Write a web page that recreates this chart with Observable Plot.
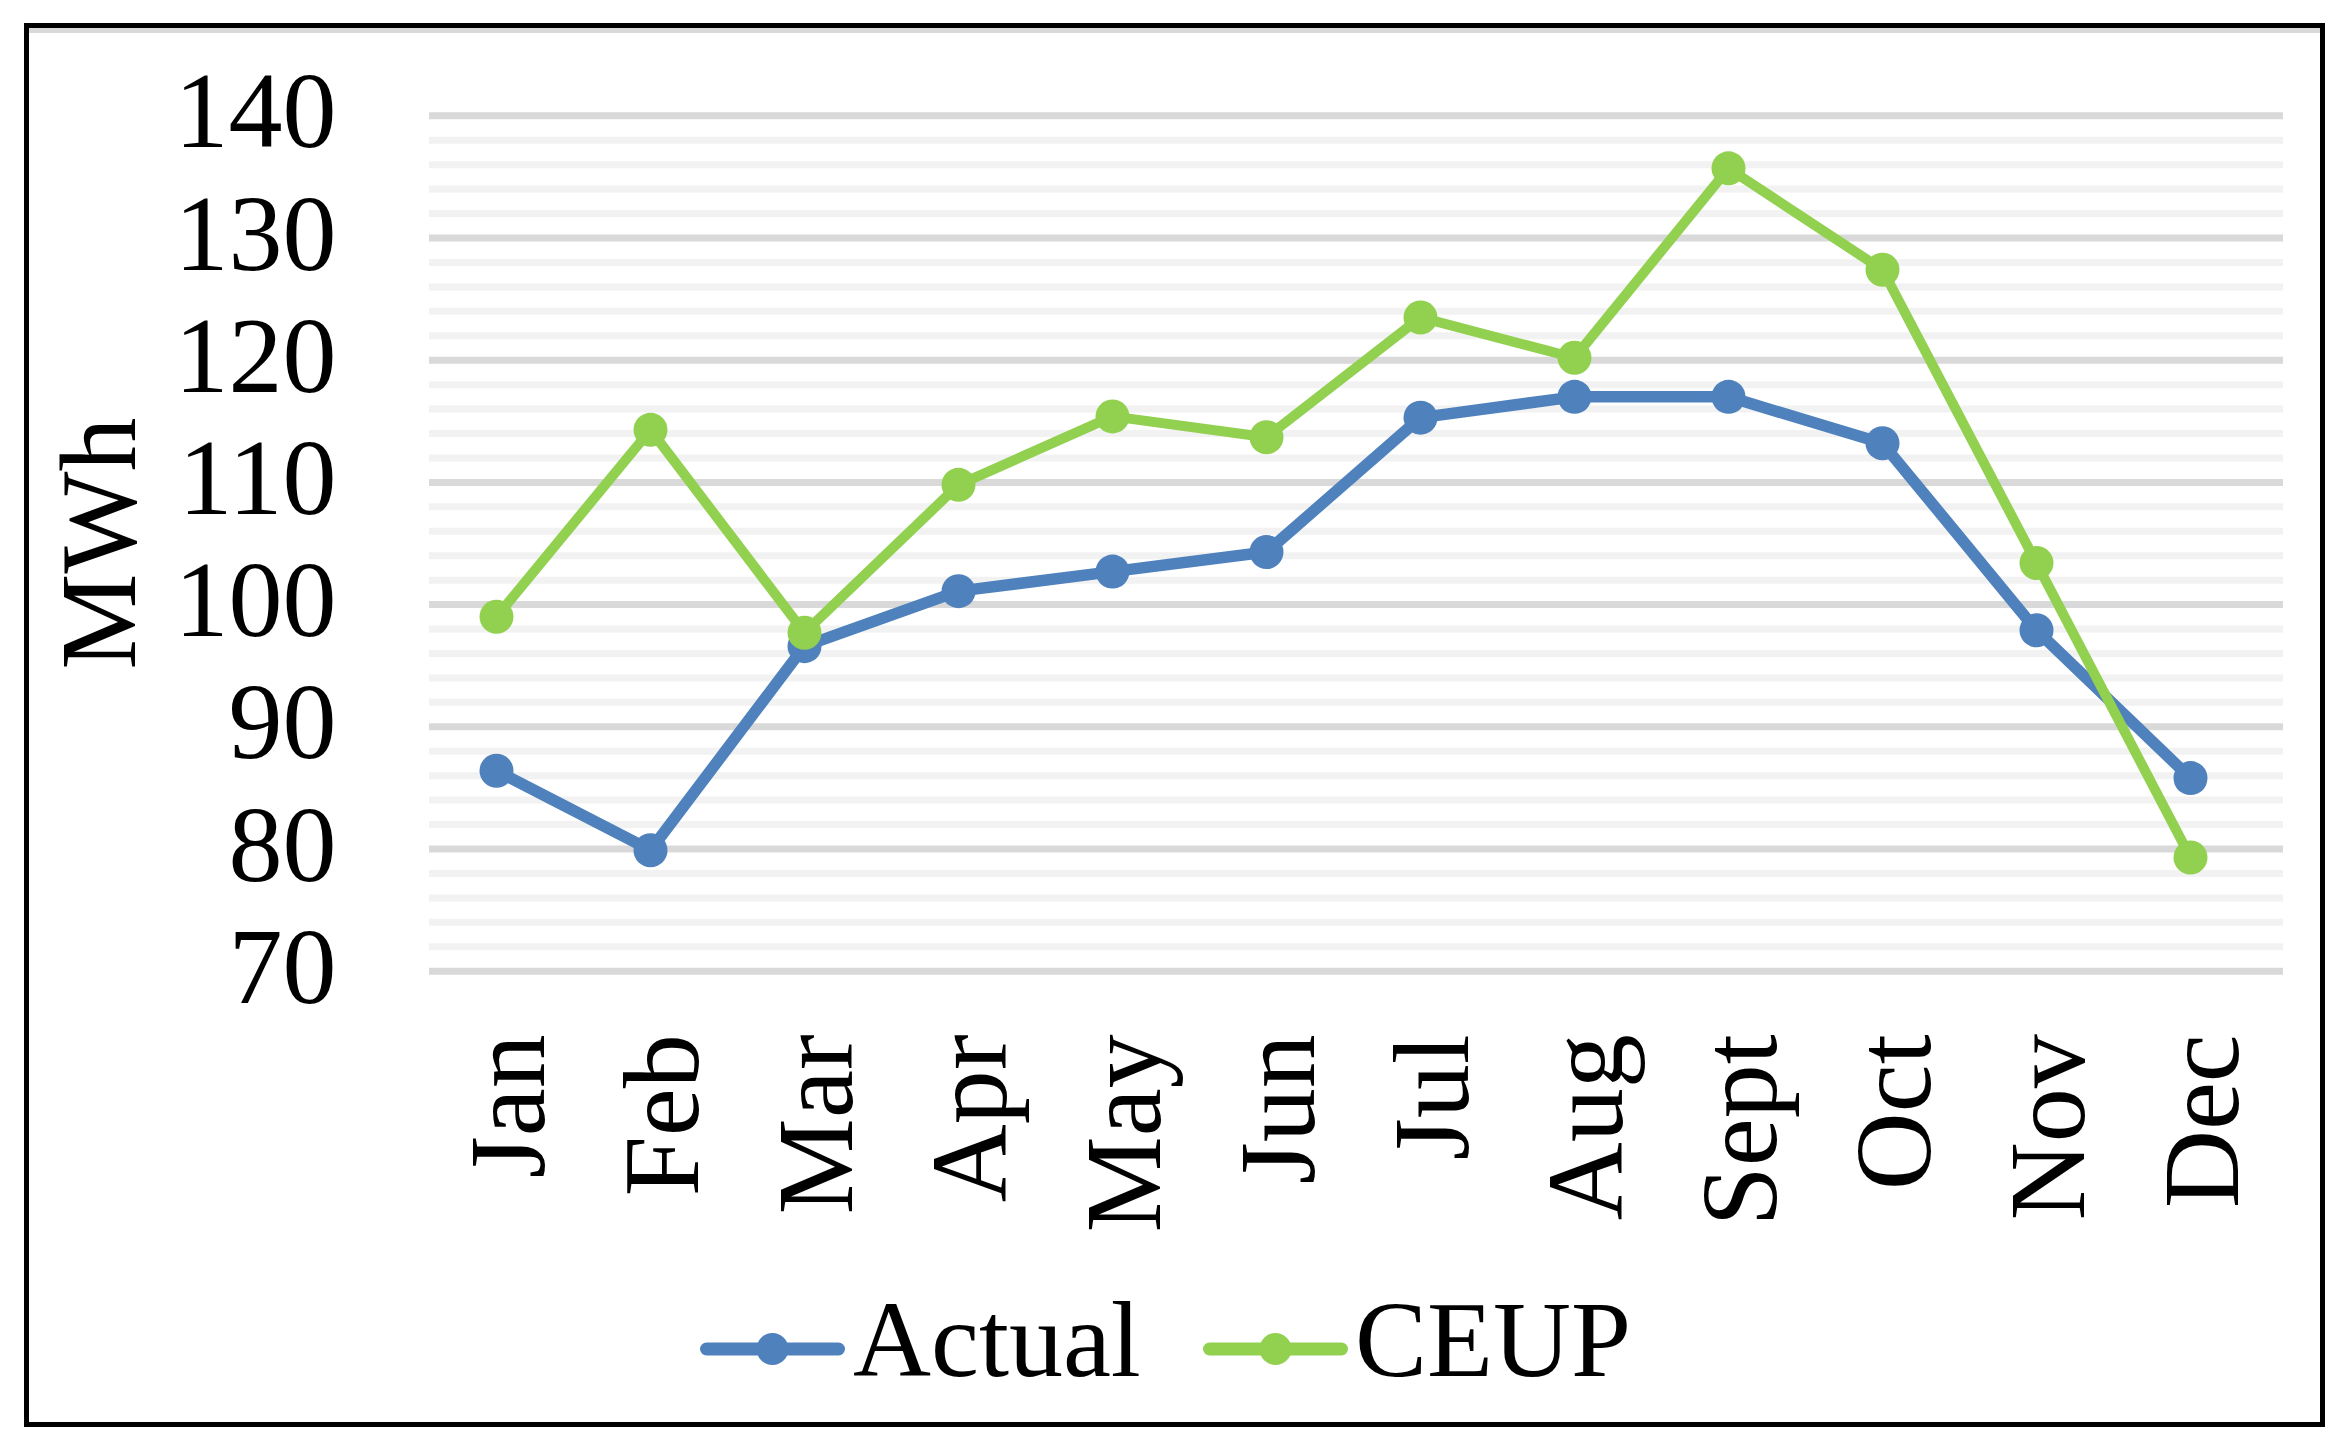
<!DOCTYPE html>
<html>
<head>
<meta charset="utf-8">
<script src="https://cdn.jsdelivr.net/npm/d3@7"></script>
<script src="https://cdn.jsdelivr.net/npm/@observablehq/plot@0.6"></script>
<style>
  html, body { margin: 0; padding: 0; background: #fff; }
  body { width: 2344px; height: 1451px; position: relative; overflow: hidden; font-family: "Liberation Serif", "Times New Roman", serif; }
  #chart { position: absolute; left: 0; top: 0; }
  #frame { position: absolute; left: 24px; top: 23px; width: 2301px; height: 1404px; box-sizing: border-box; border: 5px solid #000; box-shadow: inset 0 5px 0 #d9d9d9; pointer-events: none; }
  .leg-swatch { position: absolute; }
  .leg-text { position: absolute; font-size: 108px; line-height: 108px; color: #000; white-space: nowrap; }
</style>
</head>
<body>
<div id="chart"></div>
<div id="legend"></div>
<div id="frame"></div>
<script>
// ---- data ----
const months = ["Jan","Feb","Mar","Apr","May","Jun","Jul","Aug","Sept","Oct","Nov","Dec"];
const actual = [86.4, 79.9, 96.6, 101.1, 102.7, 104.3, 115.3, 117.0, 117.0, 113.2, 97.9, 85.8];
const ceup   = [99.0, 114.3, 97.7, 109.8, 115.4, 113.7, 123.5, 120.2, 135.7, 127.4, 103.4, 79.3];
const seriesNames = ["Actual", "CEUP"];
const seriesColors = ["#4f81bd", "#92d050"];
const yTicks = [70, 80, 90, 100, 110, 120, 130, 140];
const yMinor = [72,74,76,78,82,84,86,88,92,94,96,98,102,104,106,108,112,114,116,118,122,124,126,128,132,134,136,138];
const yLabel = "MWh";

// ---- build table ----
const rows = [];
months.forEach((m, i) => {
  rows.push({month: m, value: actual[i], series: seriesNames[0]});
});
months.forEach((m, i) => {
  rows.push({month: m, value: ceup[i], series: seriesNames[1]});
});
const rowsA = rows.filter(d => d.series === seriesNames[0]);
const rowsC = rows.filter(d => d.series === seriesNames[1]);

const W = 2344, H = 1290;
const font = "Liberation Serif, Times New Roman, serif";

const chart = Plot.plot({
  width: W,
  height: H,
  marginLeft: 429,
  marginRight: 61,
  marginTop: 115.3,
  marginBottom: H - 970.7,
  style: {fontFamily: font, background: "transparent", overflow: "visible"},
  x: {type: "point", domain: months, range: [415, 2270.3], padding: 0.5, axis: null},
  y: {domain: [70, 140], range: [970.7, 115.3], axis: null},
  marks: [
    Plot.ruleY(yMinor, {stroke: "#f2f2f2", strokeWidth: 7}),
    Plot.ruleY(yTicks, {stroke: "#d9d9d9", strokeWidth: 7}),
    Plot.text(yTicks, {y: d => d, text: d => String(d), frameAnchor: "left", textAnchor: "end", lineAnchor: "middle", dx: -93, dy: -3, fontSize: 108, fill: "#000"}),
    Plot.text(months, {x: d => d, text: d => d, frameAnchor: "bottom", rotate: -90, textAnchor: "end", lineAnchor: "middle", dx: 13, dy: 63, fontSize: 108, fill: "#000"}),
    Plot.text([yLabel], {text: d => d, frameAnchor: "left", rotate: -90, textAnchor: "middle", lineAnchor: "middle", dx: -329, fontSize: 108, fill: "#000"}),
    Plot.line(rowsA, {x: "month", y: "value", stroke: seriesColors[0], strokeWidth: 11.5, strokeLinejoin: "round", strokeLinecap: "round"}),
    Plot.line(rowsC, {x: "month", y: "value", stroke: seriesColors[1], strokeWidth: 10, strokeLinejoin: "round", strokeLinecap: "round"}),
    Plot.dot(rowsA, {x: "month", y: "value", r: 17, fill: seriesColors[0], stroke: "none"}),
    Plot.dot(rowsC, {x: "month", y: "value", r: 17, fill: seriesColors[1], stroke: "none"})
  ]
});
document.getElementById("chart").append(chart);

// ---- legend (HTML below the svg, inside the frame) ----
const legend = d3.select("#legend");
const legItems = [
  {name: seriesNames[0], color: seriesColors[0], swX: 700, textX: 853},
  {name: seriesNames[1], color: seriesColors[1], swX: 1203, textX: 1355}
];
legItems.forEach(it => {
  const sw = legend.append("svg").attr("class", "leg-swatch")
    .attr("width", 145).attr("height", 40)
    .style("left", it.swX + "px").style("top", (1349 - 20) + "px");
  sw.append("line").attr("x1", 6.5).attr("x2", 138.5).attr("y1", 20).attr("y2", 20)
    .attr("stroke", it.color).attr("stroke-width", 13).attr("stroke-linecap", "round");
  sw.append("circle").attr("cx", 72.5).attr("cy", 20).attr("r", 16).attr("fill", it.color);
  legend.append("div").attr("class", "leg-text")
    .style("left", it.textX + "px").style("top", (1376 - 90.5) + "px")
    .text(it.name);
});
</script>
</body>
</html>
